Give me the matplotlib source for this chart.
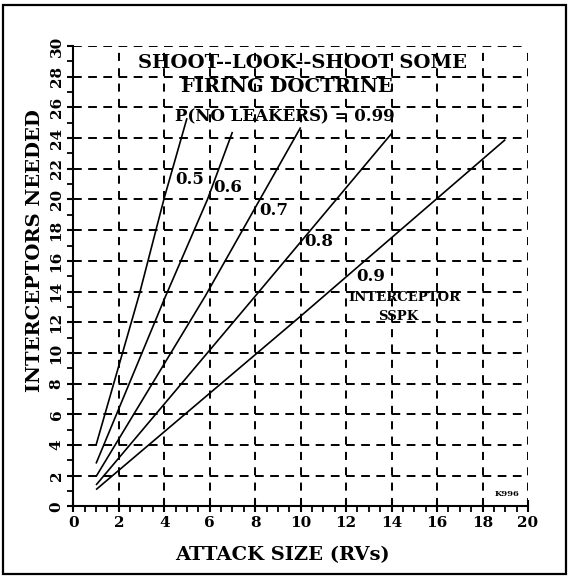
import numpy as np
import matplotlib
matplotlib.use("Agg")
from matplotlib import pyplot as plt

# curves, one per interceptor SSPK
x_05 = [1, 2.9, 4, 5]
y_05 = [4.0, 13.8, 20.1, 25.3]

x_06 = [1, 4, 5.9, 7]
y_06 = [2.8, 13.5, 20.0, 24.4]

x_07 = [1, 5.8, 10]
y_07 = [1.95, 13.7, 24.7]

x_08 = [1, 8, 14]
y_08 = [1.4, 13.7, 24.3]

x_09 = [1, 10, 19]
y_09 = [1.1, 12.4, 23.9]

sspk_labels = ["0.5", "0.6", "0.7", "0.8", "0.9"]
label_x = [5.1, 6.8, 8.8, 10.8, 13.1]
label_y = [21.3, 20.8, 19.3, 17.25, 15.0]

x_ticks = np.arange(0, 21, 2)
y_ticks = np.arange(0, 31, 2)

serif = "DejaVu Serif"

fig = plt.figure(figsize=(5.71, 5.77), dpi=100)
ax = fig.add_axes([0.1284, 0.1222, 0.7963, 0.7981])

# outer frame of the scanned page
fig.add_artist(plt.Rectangle((0.006, 0.006), 0.986, 0.986, transform=fig.transFigure,
                             fill=False, edgecolor="black", linewidth=1.6))

ax.set_xlim(0, 20)
ax.set_ylim(0, 30)

# dashed grid, dash period chosen so the dashes start at each crossing
ax.xaxis.grid(True, which="major", color="black", linewidth=1.4,
              linestyle=(0, (5.8 / 1.4, 5.25 / 1.4)))
ax.yaxis.grid(True, which="major", color="black", linewidth=1.4,
              linestyle=(0, (6.3 / 1.4, 4.62 / 1.4)))
ax.set_axisbelow(True)

ax.spines["top"].set_visible(False)
ax.spines["right"].set_visible(False)
ax.spines["left"].set_linewidth(1.5)
ax.spines["bottom"].set_linewidth(1.5)

ax.set_xticks(x_ticks)
ax.set_xticks(np.arange(0, 20.01, 0.5), minor=True)
ax.set_yticks(y_ticks)
ax.set_yticks(np.arange(0, 30.01, 1), minor=True)

ax.tick_params(axis="x", which="major", direction="inout", length=9, width=1.5, pad=2)
ax.tick_params(axis="x", which="minor", direction="out", length=4, width=1.3)
ax.tick_params(axis="y", which="major", direction="out", length=4, width=1.5, pad=3)
ax.tick_params(axis="y", which="minor", direction="out", length=4, width=1.3)

ax.set_xticklabels([str(v) for v in x_ticks], fontfamily=serif, fontweight="bold", fontsize=11)
ax.set_yticklabels([str(v) for v in y_ticks], fontfamily=serif, fontweight="bold", fontsize=11,
                   rotation=90, va="center")

ax.set_xlabel("ATTACK SIZE (RVs)", fontfamily=serif, fontweight="bold", fontsize=14)
ax.set_ylabel("INTERCEPTORS NEEDED", fontfamily=serif, fontweight="bold", fontsize=14)
ax.xaxis.set_label_coords(0.459, -0.087)
ax.yaxis.set_label_coords(-0.064, 0.556)

# the five curves
for xs, ys in [(x_05, y_05), (x_06, y_06), (x_07, y_07), (x_08, y_08), (x_09, y_09)]:
    ax.plot(xs, ys, color="black", linewidth=1.2, solid_capstyle="butt")

for lab, lx, ly in zip(sspk_labels, label_x, label_y):
    ax.text(lx, ly, lab, fontfamily=serif, fontweight="bold", fontsize=12,
            ha="center", va="center")

ax.text(14.55, 13.6, "INTERCEPTOR", fontfamily=serif, fontweight="bold", fontsize=9.5,
        ha="center", va="center")
ax.text(14.3, 12.4, "SSPK", fontfamily=serif, fontweight="bold", fontsize=9.5,
        ha="center", va="center")

ax.text(10.1, 28.9, "SHOOT--LOOK--SHOOT SOME", fontfamily=serif, fontweight="bold",
        fontsize=14, ha="center", va="center")
ax.text(9.4, 27.35, "FIRING DOCTRINE", fontfamily=serif, fontweight="bold",
        fontsize=14, ha="center", va="center")
ax.text(9.3, 25.4, "P(NO LEAKERS) = 0.99", fontfamily=serif, fontweight="bold",
        fontsize=12, ha="center", va="center")

ax.text(19.1, 0.8, "K996", fontfamily=serif, fontweight="heavy", fontsize=6,
        ha="center", va="center")

fig.savefig("out.png", dpi=100)
